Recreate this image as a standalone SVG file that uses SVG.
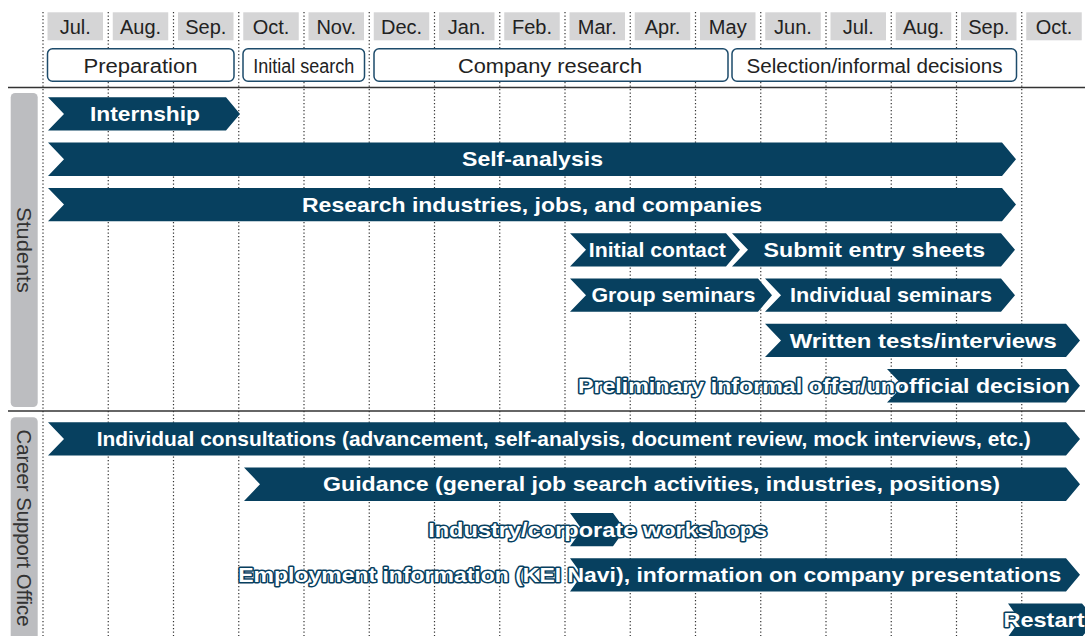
<svg xmlns="http://www.w3.org/2000/svg" width="1085" height="636" viewBox="0 0 1085 636">
  <style>
    .grid line { stroke: #333; stroke-width: 1.2; stroke-dasharray: 1.3 2.2; }
    .sep { stroke: #333; stroke-width: 1.5; }
    .month rect { fill: #d5d5d6; }
    .month text { font-family: "Liberation Sans", Arial, sans-serif; font-size: 20px; fill: #222; text-anchor: middle; }
    .phase rect { fill: #fff; stroke: #1d4b6b; stroke-width: 1.5; }
    .phase text { font-family: "Liberation Sans", Arial, sans-serif; font-size: 20px; fill: #222; text-anchor: middle; }
    .side rect { fill: #bcbdc0; }
    .side text { font-family: "Liberation Sans", Arial, sans-serif; font-size: 20px; fill: #333; text-anchor: middle; }
    .bar { fill: #07405f; }
    .lbl { font-family: "Liberation Sans", Arial, sans-serif; font-size: 21px; font-weight: bold; fill: #fff; text-anchor: middle; }
    .halo { stroke: #07405f; stroke-width: 3; stroke-linejoin: round; paint-order: stroke; }
  </style>

  <!-- month grid -->
  <g id="grid" class="grid">
    <line x1="43" y1="12" x2="43" y2="636"/>
    <line x1="108.25" y1="12" x2="108.25" y2="636"/>
    <line x1="173.5" y1="12" x2="173.5" y2="636"/>
    <line x1="238.75" y1="12" x2="238.75" y2="636"/>
    <line x1="304" y1="12" x2="304" y2="636"/>
    <line x1="369.25" y1="12" x2="369.25" y2="636"/>
    <line x1="434.5" y1="12" x2="434.5" y2="636"/>
    <line x1="499.75" y1="12" x2="499.75" y2="636"/>
    <line x1="565" y1="12" x2="565" y2="636"/>
    <line x1="630.25" y1="12" x2="630.25" y2="636"/>
    <line x1="695.5" y1="12" x2="695.5" y2="636"/>
    <line x1="760.75" y1="12" x2="760.75" y2="636"/>
    <line x1="826" y1="12" x2="826" y2="636"/>
    <line x1="891.25" y1="12" x2="891.25" y2="636"/>
    <line x1="956.5" y1="12" x2="956.5" y2="636"/>
    <line x1="1021.75" y1="12" x2="1021.75" y2="636"/>
  </g>

  <!-- section separators -->
  <line class="sep" x1="8" y1="87.5" x2="1085" y2="87.5"/>
  <line class="sep" x1="8" y1="411" x2="1085" y2="411"/>

  <!-- month headers -->
  <g id="months" class="month">
    <rect x="47.5" y="12.3" width="55.5" height="28"/><text x="75.25" y="34">Jul.</text>
    <rect x="112.75" y="12.3" width="55.5" height="28"/><text x="140.5" y="34">Aug.</text>
    <rect x="178" y="12.3" width="55.5" height="28"/><text x="205.75" y="34">Sep.</text>
    <rect x="243.25" y="12.3" width="55.5" height="28"/><text x="271" y="34">Oct.</text>
    <rect x="308.5" y="12.3" width="55.5" height="28"/><text x="336.25" y="34">Nov.</text>
    <rect x="373.75" y="12.3" width="55.5" height="28"/><text x="401.5" y="34">Dec.</text>
    <rect x="439" y="12.3" width="55.5" height="28"/><text x="466.75" y="34">Jan.</text>
    <rect x="504.25" y="12.3" width="55.5" height="28"/><text x="532" y="34">Feb.</text>
    <rect x="569.5" y="12.3" width="55.5" height="28"/><text x="597.25" y="34">Mar.</text>
    <rect x="634.75" y="12.3" width="55.5" height="28"/><text x="662.5" y="34">Apr.</text>
    <rect x="700" y="12.3" width="55.5" height="28"/><text x="727.75" y="34">May</text>
    <rect x="765.25" y="12.3" width="55.5" height="28"/><text x="793" y="34">Jun.</text>
    <rect x="830.5" y="12.3" width="55.5" height="28"/><text x="858.25" y="34">Jul.</text>
    <rect x="895.75" y="12.3" width="55.5" height="28"/><text x="923.5" y="34">Aug.</text>
    <rect x="961" y="12.3" width="55.5" height="28"/><text x="988.75" y="34">Sep.</text>
    <rect x="1026.25" y="12.3" width="55.5" height="28"/><text x="1054" y="34">Oct.</text>
  </g>

  <!-- phase headers -->
  <g id="phase-preparation" class="phase">
    <rect x="47.5" y="48.7" width="186.5" height="32.6" rx="5"/>
    <text x="140.5" y="73.3" textLength="114" lengthAdjust="spacingAndGlyphs">Preparation</text>
  </g>
  <g id="phase-initial-search" class="phase">
    <rect x="243" y="48.7" width="121.5" height="32.6" rx="5"/>
    <text x="303.7" y="73.3" textLength="101" lengthAdjust="spacingAndGlyphs">Initial search</text>
  </g>
  <g id="phase-company-research" class="phase">
    <rect x="374" y="48.7" width="354" height="32.6" rx="5"/>
    <text x="550" y="73.3" textLength="184" lengthAdjust="spacingAndGlyphs">Company research</text>
  </g>
  <g id="phase-selection" class="phase">
    <rect x="732" y="48.7" width="284.5" height="32.6" rx="5"/>
    <text x="874.5" y="73.3" textLength="256" lengthAdjust="spacingAndGlyphs">Selection/informal decisions</text>
  </g>

  <!-- row headers -->
  <g id="side-students" class="side">
    <rect x="10.7" y="93" width="27" height="314" rx="4.5"/>
    <text transform="translate(24 250) rotate(90)" y="7" textLength="86" lengthAdjust="spacingAndGlyphs">Students</text>
  </g>
  <g id="side-career" class="side">
    <rect x="10.7" y="417.3" width="27" height="230" rx="4.5"/>
    <text transform="translate(24 528) rotate(90)" y="7" textLength="197" lengthAdjust="spacingAndGlyphs">Career Support Office</text>
  </g>

  <!-- student activities -->
  <g id="internship">
    <polygon class="bar" points="48,97.3 226,97.3 240,113.95 226,130.6 48,130.6 64,113.95"/>
    <text class="lbl" x="145" y="121" textLength="110" lengthAdjust="spacingAndGlyphs">Internship</text>
  </g>
  <g id="self-analysis">
    <polygon class="bar" points="48,142.6 1002,142.6 1016,159.25 1002,175.9 48,175.9 64,159.25"/>
    <text class="lbl" x="532.5" y="166.3" textLength="141" lengthAdjust="spacingAndGlyphs">Self-analysis</text>
  </g>
  <g id="research">
    <polygon class="bar" points="48,187.9 1002,187.9 1016,204.55 1002,221.2 48,221.2 64,204.55"/>
    <text class="lbl" x="532" y="211.6" textLength="460" lengthAdjust="spacingAndGlyphs">Research industries, jobs, and companies</text>
  </g>
  <g id="initial-contact">
    <polygon class="bar" points="570,233.2 726,233.2 740,249.85 726,266.5 570,266.5 586,249.85"/>
    <text class="lbl" x="657.3" y="256.9" textLength="137" lengthAdjust="spacingAndGlyphs">Initial contact</text>
  </g>
  <g id="entry-sheets">
    <polygon class="bar" points="732,233.2 1001,233.2 1015,249.85 1001,266.5 732,266.5 748,249.85"/>
    <text class="lbl" x="874.3" y="256.9" textLength="221.5" lengthAdjust="spacingAndGlyphs">Submit entry sheets</text>
  </g>
  <g id="group-seminars">
    <polygon class="bar" points="570,278.5 758,278.5 772,295.15 758,311.8 570,311.8 586,295.15"/>
    <text class="lbl" x="673.4" y="302.2" textLength="164" lengthAdjust="spacingAndGlyphs">Group seminars</text>
  </g>
  <g id="individual-seminars">
    <polygon class="bar" points="765,278.5 1001,278.5 1015,295.15 1001,311.8 765,311.8 781,295.15"/>
    <text class="lbl" x="891" y="302.2" textLength="202" lengthAdjust="spacingAndGlyphs">Individual seminars</text>
  </g>
  <g id="tests-interviews">
    <polygon class="bar" points="765,323.8 1066,323.8 1080,340.45 1066,357.1 765,357.1 781,340.45"/>
    <text class="lbl" x="923.3" y="347.5" textLength="267" lengthAdjust="spacingAndGlyphs">Written tests/interviews</text>
  </g>
  <g id="informal-offer">
    <polygon class="bar" points="887,369.1 1066,369.1 1080,385.75 1066,402.4 887,402.4 903,385.75"/>
    <text class="lbl halo" x="824" y="392.8" textLength="492" lengthAdjust="spacingAndGlyphs">Preliminary informal offer/unofficial decision</text>
  </g>

  <!-- career support office activities -->
  <g id="consultations">
    <polygon class="bar" points="48,422.3 1066,422.3 1080,438.95 1066,455.6 48,455.6 64,438.95"/>
    <text class="lbl" x="563.7" y="446" textLength="934" lengthAdjust="spacingAndGlyphs">Individual consultations (advancement, self-analysis, document review, mock interviews, etc.)</text>
  </g>
  <g id="guidance">
    <polygon class="bar" points="244,467.6 1066,467.6 1080,484.25 1066,500.9 244,500.9 260,484.25"/>
    <text class="lbl" x="661.5" y="491.3" textLength="677" lengthAdjust="spacingAndGlyphs">Guidance (general job search activities, industries, positions)</text>
  </g>
  <g id="workshops">
    <polygon class="bar" points="570,512.9 613,512.9 625,529.55 613,546.2 570,546.2 582,529.55"/>
    <text class="lbl halo" x="597.7" y="536.6" textLength="339" lengthAdjust="spacingAndGlyphs">Industry/corporate workshops</text>
  </g>
  <g id="employment-info">
    <polygon class="bar" points="570,558.2 1066,558.2 1080,574.85 1066,591.5 570,591.5 582,574.85"/>
    <text class="lbl halo" x="649.8" y="581.9" textLength="823" lengthAdjust="spacingAndGlyphs">Employment information (KEI Navi), information on company presentations</text>
  </g>
  <g id="restart">
    <polygon class="bar" points="1008,603.5 1082,603.5 1096,620.15 1082,636.8 1008,636.8 1020,620.15"/>
    <text class="lbl halo" x="1044" y="627.2" textLength="81" lengthAdjust="spacingAndGlyphs">Restart</text>
  </g>

  <!-- no separate connectors: the chevrons themselves show the flow -->
  <g id="connectors"/>
</svg>
